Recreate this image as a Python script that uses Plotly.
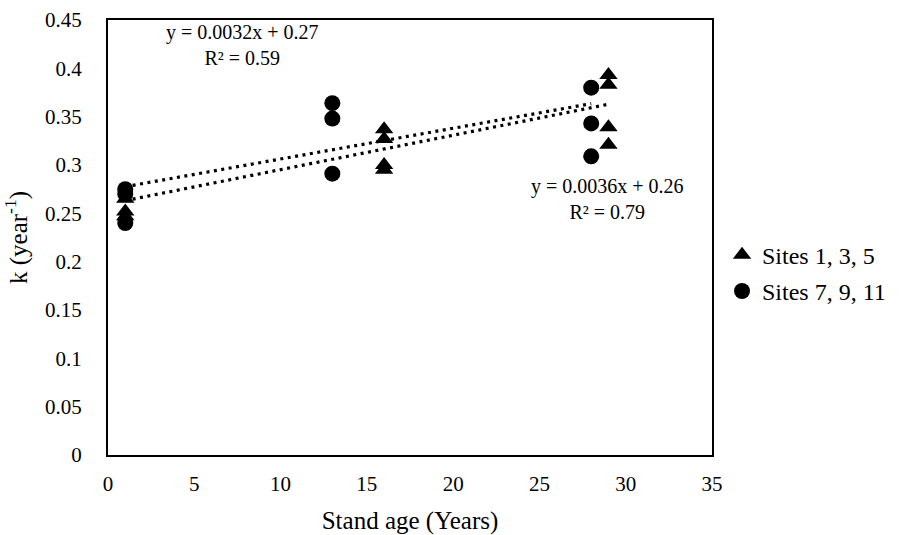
import plotly.graph_objects as go

# Decomposition rate constants k (year^-1) by stand age
tri_age = [1, 1, 1, 16, 16, 16, 16, 29, 29, 29, 29]
tri_k = [0.265, 0.252, 0.247, 0.337, 0.327, 0.300, 0.295, 0.393, 0.383, 0.339, 0.321]

circ_age = [1, 1, 1, 13, 13, 13, 28, 28, 28]
circ_k = [0.275, 0.270, 0.240, 0.364, 0.348, 0.291, 0.380, 0.343, 0.309]

# Linear trendlines: slope, intercept, R^2 (labels show them rounded)
tri_fit = (0.00356, 0.2596, 0.79)
circ_fit = (0.00318, 0.2744, 0.59)

x_ticks = [0, 5, 10, 15, 20, 25, 30, 35]
y_ticks = [0, 0.05, 0.1, 0.15, 0.2, 0.25, 0.3, 0.35, 0.4, 0.45]

FONT = "Liberation Serif"
TICK_FS = 21
EQ_FS = 20
TITLE_FS = 25
LEG_FS = 24

fig = go.Figure()


def trend(xs, fit):
    x0, x1 = min(xs), max(xs)
    m, b, _ = fit
    return [x0, x1], [m * x0 + b, m * x1 + b]


for xs, fit in [(circ_age, circ_fit), (tri_age, tri_fit)]:
    tx, ty = trend(xs, fit)
    fig.add_trace(go.Scatter(
        x=tx, y=ty, mode="lines", showlegend=False, hoverinfo="skip",
        line=dict(color="black", width=3.2, dash="3px,4.5px"),
    ))

fig.add_trace(go.Scatter(
    x=tri_age, y=tri_k, mode="markers", name="Sites 1, 3, 5", legendgroup="a",
    marker=dict(symbol="triangle-up", size=16, color="black"),
))
fig.add_trace(go.Scatter(
    x=circ_age, y=circ_k, mode="markers", name="Sites 7, 9, 11", legendgroup="b",
    marker=dict(symbol="circle", size=16, color="black"),
))


def eq_text(fit):
    m, b, r2 = fit
    return f"y = {m:.4f}x + {b:.2f}<br>R² = {r2:.2f}"


fig.add_annotation(x=7.82, y=0.424, text=eq_text(circ_fit), showarrow=False,
                   font=dict(family=FONT, size=EQ_FS, color="black"), align="center")
fig.add_annotation(x=28.97, y=0.265, text=eq_text(tri_fit), showarrow=False,
                   font=dict(family=FONT, size=EQ_FS, color="black"), align="center")

axis_common = dict(
    showgrid=False, zeroline=False, showline=True, linecolor="black",
    linewidth=2, mirror=True, ticks="", automargin=False,
    tickfont=dict(family=FONT, size=TICK_FS, color="black"),
)

fig.update_xaxes(
    range=[0, 35], tickvals=x_ticks, ticktext=[str(v) for v in x_ticks],
    title=dict(text="Stand age (Years)", font=dict(family=FONT, size=TITLE_FS, color="black"), standoff=16),
    ticklabelstandoff=9, **axis_common,
)
fig.update_yaxes(
    range=[0, 0.45], tickvals=y_ticks, ticktext=[f"{v:g}" for v in y_ticks],
    title=dict(text="k (year<sup>-1</sup>)", font=dict(family=FONT, size=TITLE_FS, color="black"), standoff=12),
    ticklabelstandoff=20, **axis_common,
)

fig.update_layout(
    width=907, height=535,
    margin=dict(l=108, r=195, t=20, b=80),
    paper_bgcolor="white", plot_bgcolor="white",
    font=dict(family=FONT, size=TICK_FS, color="black"),
    legend=dict(x=1.0166, y=0.418, xanchor="left", yanchor="middle",
                font=dict(family=FONT, size=LEG_FS, color="black"),
                itemwidth=30, tracegroupgap=2, traceorder="grouped"),
    showlegend=True,
)

fig.write_html("out.html")
